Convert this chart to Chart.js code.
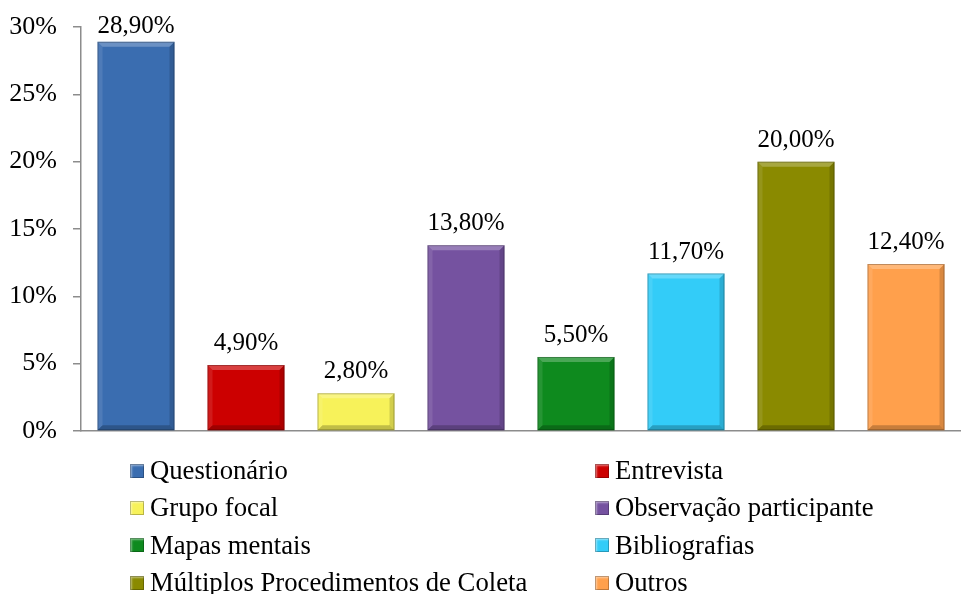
<!DOCTYPE html>
<html>
<head>
<meta charset="utf-8">
<script src="https://cdn.jsdelivr.net/npm/chart.js@4"></script>
<style>
  body { margin: 0; background: #fff; }
  #wrap { position: relative; width: 961px; height: 463px; }
  #legend {
    position: absolute; top: 452px; left: 0; width: 961px;
    display: grid; grid-template-columns: 465px 366px;
    padding-left: 130px; box-sizing: border-box;
    font-family: "Liberation Serif", "Times New Roman", serif;
  }
  .item { display: flex; align-items: center; height: 37.3px; font-size: 26.7px; color: #000; white-space: nowrap; }
  .box { width: 14px; height: 14px; margin-right: 6px; flex: none;
         box-shadow: inset 0 0 0 1px rgba(0,0,0,0.25), inset 2px 2px 2px rgba(255,255,255,0.45); }
</style>
</head>
<body>
<div id="wrap"><canvas id="chart"></canvas></div>
<div id="legend"></div>
<script>
const categories = ['Questionário', 'Entrevista', 'Grupo focal', 'Observação participante',
  'Mapas mentais', 'Bibliografias', 'Múltiplos Procedimentos de Coleta', 'Outros'];
const values = [28.9, 4.9, 2.8, 13.8, 5.5, 11.7, 20.0, 12.4];
const colors = ['#3A6DB0', '#CC0000', '#F7F25A', '#7552A0', '#0E8A1E', '#33CCF8', '#8A8A00', '#FFA04C'];
const yTicks = [0, 5, 10, 15, 20, 25, 30];

const FONT = '"Liberation Serif", "Times New Roman", serif';
const fmt = v => v.toFixed(2).replace('.', ',') + '%';

// simple bevel + value label drawn over each bar
const bevelPlugin = {
  id: 'bevel',
  afterDatasetsDraw(chart) {
    const ctx = chart.ctx;
    const meta = chart.getDatasetMeta(0);
    meta.data.forEach((bar, i) => {
      const l = bar.x - bar.width / 2, r = bar.x + bar.width / 2;
      const t = bar.y, b = bar.base;
      const d = Math.min(5, (b - t) / 2);
      ctx.save();
      ctx.fillStyle = 'rgba(255,255,255,0.25)';
      ctx.beginPath(); ctx.moveTo(l, t); ctx.lineTo(r, t); ctx.lineTo(r - d, t + d); ctx.lineTo(l + d, t + d); ctx.fill();
      ctx.fillStyle = 'rgba(255,255,255,0.1)';
      ctx.beginPath(); ctx.moveTo(l, t); ctx.lineTo(l + d, t + d); ctx.lineTo(l + d, b - d); ctx.lineTo(l, b); ctx.fill();
      ctx.fillStyle = 'rgba(0,0,0,0.15)';
      ctx.beginPath(); ctx.moveTo(r, t); ctx.lineTo(r - d, t + d); ctx.lineTo(r - d, b - d); ctx.lineTo(r, b); ctx.fill();
      ctx.fillStyle = 'rgba(0,0,0,0.22)';
      ctx.beginPath(); ctx.moveTo(l, b); ctx.lineTo(l + d, b - d); ctx.lineTo(r - d, b - d); ctx.lineTo(r, b); ctx.fill();
      ctx.strokeStyle = 'rgba(0,0,0,0.25)';
      ctx.lineWidth = 1;
      ctx.strokeRect(l + 0.5, t + 0.5, r - l - 1, b - t - 1);
      // value label, pushed down when it would leave the plot area
      ctx.fillStyle = '#000';
      ctx.font = '25px ' + FONT;
      ctx.textAlign = 'center';
      ctx.textBaseline = 'bottom';
      const ly = Math.max(t - 9, chart.chartArea.top + 12);
      ctx.fillText(fmt(values[i]), bar.x, ly);
      ctx.restore();
    });
  }
};

new Chart(document.getElementById('chart'), {
  type: 'bar',
  data: {
    labels: categories,
    datasets: [{
      data: values,
      backgroundColor: colors,
      categoryPercentage: 1,
      barPercentage: 0.7
    }]
  },
  options: {
    responsive: true,
    maintainAspectRatio: false,
    animation: false,
    layout: { padding: { top: 27, bottom: 32, left: 0, right: 0 } },
    plugins: { legend: { display: false }, tooltip: { enabled: false } },
    scales: {
      x: {
        grid: { display: false },
        border: { color: '#8c8c8c', width: 1.5 },
        ticks: { display: false },
        afterFit(scale) { scale.height = 0; }
      },
      y: {
        min: 0, max: 30,
        afterBuildTicks(scale) { scale.ticks = yTicks.map(v => ({ value: v })); },
        grid: { drawOnChartArea: false, tickLength: 8, color: '#8c8c8c', lineWidth: 1.5 },
        border: { color: '#8c8c8c', width: 1.5 },
        ticks: {
          color: '#000', padding: 16,
          font: { family: FONT, size: 26 },
          callback: v => v + '%'
        },
        afterFit(scale) {
          scale.width = 81;
          scale.paddingTop = 0;
          scale.paddingBottom = 0;
        }
      }
    }
  },
  plugins: [bevelPlugin]
});

const legend = document.getElementById('legend');
categories.forEach((c, i) => {
  const it = document.createElement('div');
  it.className = 'item';
  it.innerHTML = '<span class="box" style="background:' + colors[i] + '"></span>' + c;
  legend.appendChild(it);
});
</script>
</body>
</html>
